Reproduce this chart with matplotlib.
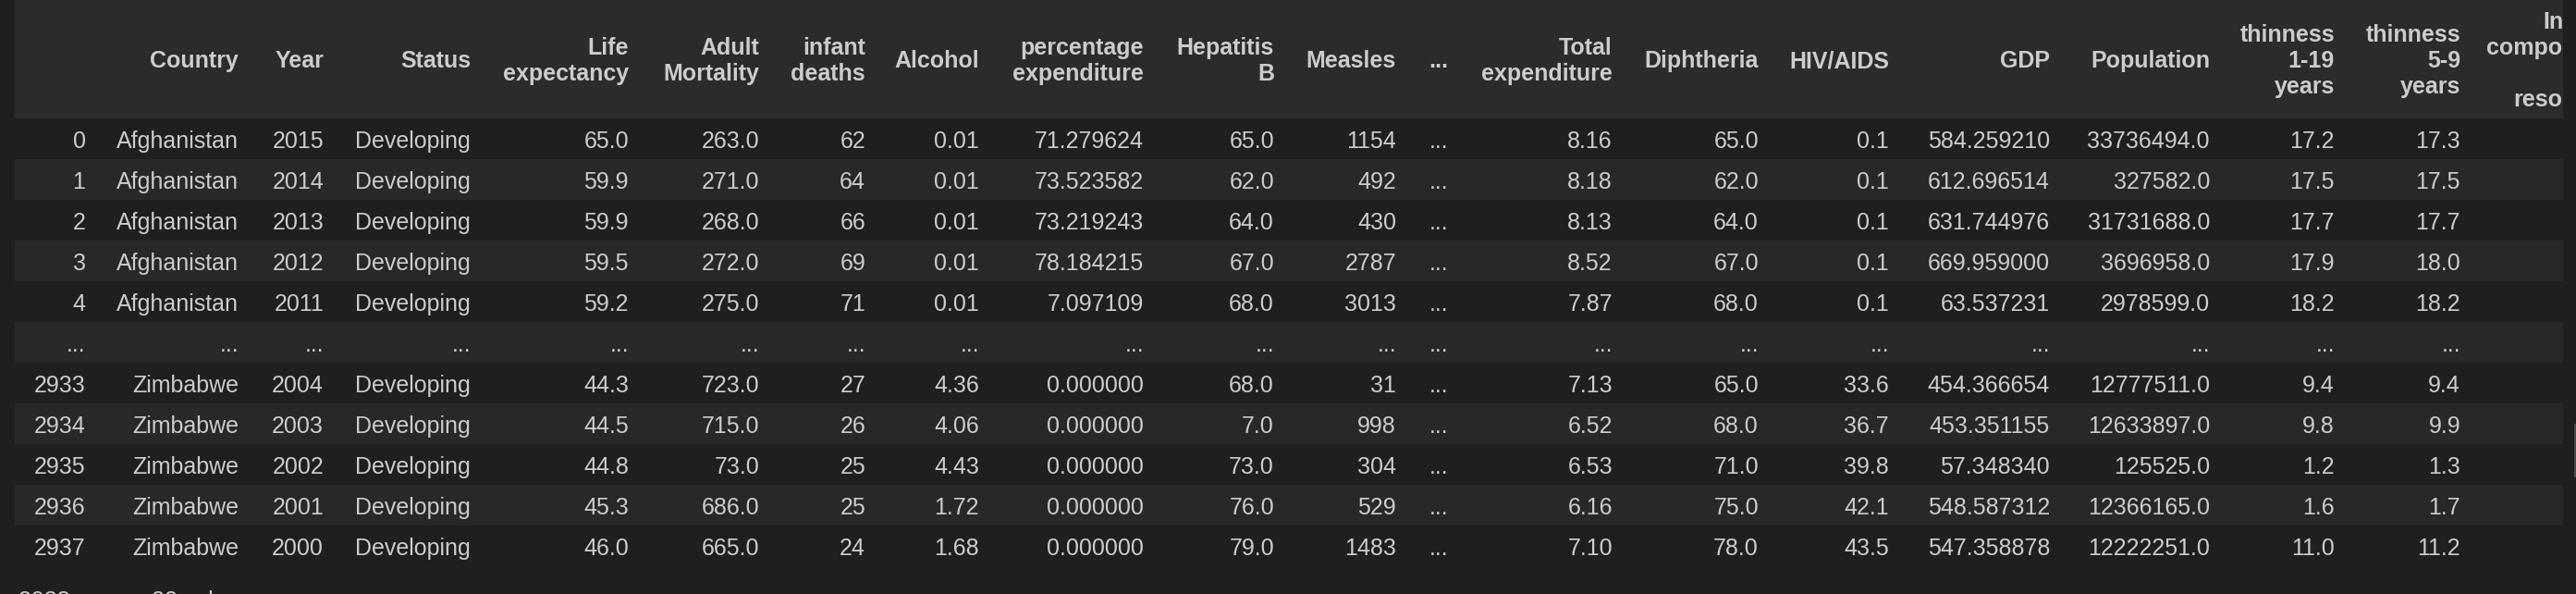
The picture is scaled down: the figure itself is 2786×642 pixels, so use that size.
import matplotlib.pyplot as plt
from matplotlib.patches import Rectangle

plt.rcParams['font.family'] = ['Liberation Sans', 'DejaVu Sans']

# table content (pandas repr of the life expectancy frame)
columns = ["Country", "Year", "Status", "Life\nexpectancy", "Adult\nMortality",
           "infant\ndeaths", "Alcohol", "percentage\nexpenditure", "Hepatitis\nB",
           "Measles", "...", "Total\nexpenditure", "Diphtheria", "HIV/AIDS", "GDP",
           "Population", "thinness\n1-19\nyears", "thinness\n5-9\nyears",
           "Income\ncomposition\nof\nresources"]

index_labels = [0, 1, 2, 3, 4, 2933, 2934, 2935, 2936, 2937]
country = ["Afghanistan"] * 5 + ["Zimbabwe"] * 5
year = [2015, 2014, 2013, 2012, 2011, 2004, 2003, 2002, 2001, 2000]
status = ["Developing"] * 10
life_exp = [65.0, 59.9, 59.9, 59.5, 59.2, 44.3, 44.5, 44.8, 45.3, 46.0]
adult_mort = [263.0, 271.0, 268.0, 272.0, 275.0, 723.0, 715.0, 73.0, 686.0, 665.0]
infant_deaths = [62, 64, 66, 69, 71, 27, 26, 25, 25, 24]
alcohol = [0.01, 0.01, 0.01, 0.01, 0.01, 4.36, 4.06, 4.43, 1.72, 1.68]
pct_exp = [71.279624, 73.523582, 73.219243, 78.184215, 7.097109, 0.0, 0.0, 0.0, 0.0, 0.0]
hep_b = [65.0, 62.0, 64.0, 67.0, 68.0, 68.0, 7.0, 73.0, 76.0, 79.0]
measles = [1154, 492, 430, 2787, 3013, 31, 998, 304, 529, 1483]
total_exp = [8.16, 8.18, 8.13, 8.52, 7.87, 7.13, 6.52, 6.53, 6.16, 7.10]
diphtheria = [65.0, 62.0, 64.0, 67.0, 68.0, 65.0, 68.0, 71.0, 75.0, 78.0]
hiv_aids = [0.1, 0.1, 0.1, 0.1, 0.1, 33.6, 36.7, 39.8, 42.1, 43.5]
gdp = [584.259210, 612.696514, 631.744976, 669.959000, 63.537231,
       454.366654, 453.351155, 57.348340, 548.587312, 547.358878]
population = [33736494.0, 327582.0, 31731688.0, 3696958.0, 2978599.0,
              12777511.0, 12633897.0, 125525.0, 12366165.0, 12222251.0]
thin_1_19 = [17.2, 17.5, 17.7, 17.9, 18.2, 9.4, 9.8, 1.2, 1.6, 11.0]
thin_5_9 = [17.3, 17.5, 17.7, 18.0, 18.2, 9.4, 9.9, 1.3, 1.7, 11.2]
income_comp = [0.479, 0.476, 0.470, 0.463, 0.454, 0.407, 0.418, 0.427, 0.427, 0.434]
footer = "2938 rows \u00d7 22 columns"

cells = [country, year, status, life_exp, adult_mort, infant_deaths, alcohol, pct_exp,
         hep_b, measles, None, total_exp, diphtheria, hiv_aids, gdp, population,
         thin_1_19, thin_5_9, income_comp]
fmts = ["{}", "{}", "{}", "{:.1f}", "{:.1f}", "{}", "{:.2f}", "{:.6f}", "{:.1f}", "{}", "",
        "{:.2f}", "{:.1f}", "{:.1f}", "{:.6f}", "{:.1f}", "{:.1f}", "{:.1f}", "{:.3f}"]

# layout (pixels)
W, H = 2786, 642
index_right = 92.5
col_right = [258, 350, 509, 680, 821, 936, 1059, 1237, 1378, 1510, 1566,
             1744, 1902, 2043, 2217, 2390, 2525, 2661, 2838]
left, right = 16, 2772
head_h, row_h = 128, 44
bg, head_bg, stripe = "#1f1f1f", "#2b2b2b", "#282828"
fg = "#cccccc"
fs = 18

fig = plt.figure(figsize=(W / 100, H / 100), dpi=100, facecolor=bg)
ax = fig.add_axes([0, 0, 1, 1])
ax.set_xlim(0, W)
ax.set_ylim(H, 0)
ax.axis("off")

ax.add_patch(Rectangle((left, 0), right - left, head_h, color=head_bg, lw=0))

# header
for x, name in zip(col_right, columns):
    lines = name.split("\n")
    n = len(lines)
    for i, line in enumerate(lines):
        y = 73 + 28 * (i - (n - 1) / 2)
        ax.text(x, y, line, ha="right", va="baseline", fontsize=fs,
                fontweight="bold", color=fg)

# body rows, with the "..." row in the middle
rows = [str(v) for v in index_labels]
rows = rows[:5] + ["..."] + rows[5:]
for r, label in enumerate(rows):
    top = head_h + r * row_h
    if r % 2 == 1:
        ax.add_patch(Rectangle((left, top), right - left, row_h, color=stripe, lw=0))
    base = top + 32
    ax.text(index_right, base, label, ha="right", va="baseline", fontsize=fs, color=fg)
    for c, x in enumerate(col_right):
        if label == "..." or cells[c] is None:
            s = "..."
        else:
            k = r if r < 5 else r - 1
            s = fmts[c].format(cells[c][k])
        ax.text(x, base, s, ha="right", va="baseline", fontsize=fs, color=fg)

# clipped right edge and scrollbar
ax.add_patch(Rectangle((right, 0), W - right, H, color=bg, lw=0, zorder=10))
ax.add_patch(Rectangle((2784, 458), 2, 58, color="#4a4a4a", lw=0, zorder=11))

ax.text(20, 657, footer, ha="left", va="baseline", fontsize=fs, color=fg)

fig.savefig("out.png", dpi=100, facecolor=bg)
